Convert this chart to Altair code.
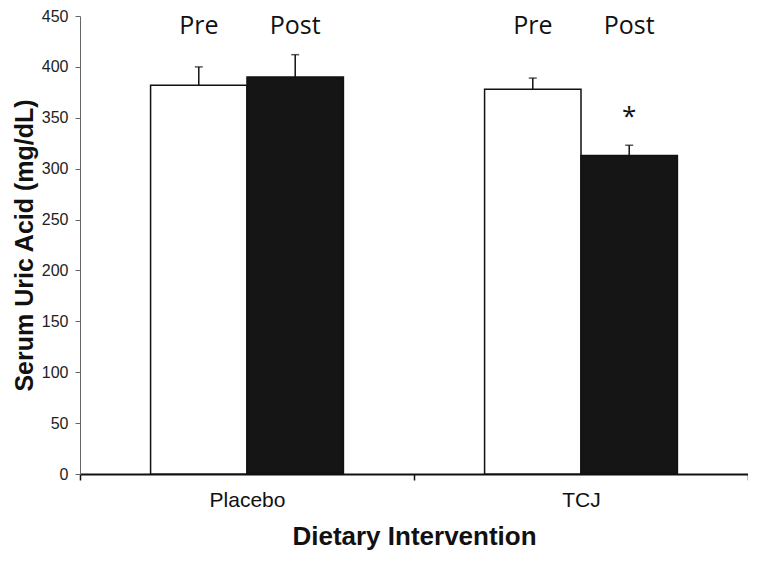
import altair as alt
import pandas as pd

groups = ["Placebo", "Placebo", "TCJ", "TCJ"]
times = ["Pre", "Post", "Pre", "Post"]
means = [382, 390, 378, 313]
errors = [18, 22, 11, 10]
y_ticks = [0, 50, 100, 150, 200, 250, 300, 350, 400, 450]
sig_group = ["TCJ"]
sig_time = ["Post"]
sig_text = ["*"]

df = pd.DataFrame({"Group": groups, "Time": times, "Mean": means, "Err": errors})
df["Upper"] = df["Mean"] + df["Err"]
sig = pd.DataFrame({"Group": sig_group, "Time": sig_time, "Label": sig_text})

FONT = "Liberation Sans"

x = alt.X(
    "Group:N",
    scale=alt.Scale(domain=["Placebo", "TCJ"], paddingInner=0, paddingOuter=0),
    axis=alt.Axis(
        title="Dietary Intervention",
        tickBand="extent",
        labelAngle=0,
        labelFont=FONT,
        labelFontSize=21,
        labelColor="#111",
        labelPadding=9,
        tickSize=6,
        tickColor="#111",
        tickWidth=1.5,
        domainColor="#111",
        domainWidth=2,
        titleFont=FONT,
        titleFontSize=26,
        titleFontWeight="bold",
        titleColor="#111",
        titlePadding=13,
    ),
)
xoff = alt.XOffset(
    "Time:N",
    scale=alt.Scale(domain=["Pre", "Post"], paddingInner=0, paddingOuter=0.732),
)
y = alt.Y(
    "Mean:Q",
    scale=alt.Scale(domain=[0, 450], nice=False),
    axis=alt.Axis(
        values=y_ticks,
        title="Serum Uric Acid (mg/dL)",
        grid=False,
        tickSize=5,
        tickColor="#666",
        domainColor="#666",
        labelFont=FONT,
        labelFontSize=16,
        labelColor="#222",
        labelPadding=7,
        titleFont=FONT,
        titleFontSize=25,
        titleFontWeight="bold",
        titleColor="#111",
        titlePadding=4,
    ),
)

base = alt.Chart(df)

bars = base.mark_bar(stroke="#111", strokeWidth=1.5).encode(
    x=x,
    xOffset=xoff,
    y=y,
    fill=alt.Fill("Time:N", scale=alt.Scale(domain=["Pre", "Post"], range=["white", "#151515"]), legend=None),
)

err_line = base.mark_rule(color="#111", strokeWidth=1.5).encode(
    x=x, xOffset=xoff, y="Mean:Q", y2="Upper:Q"
)
err_cap = base.mark_tick(color="#111", thickness=1.5, size=8, orient="horizontal").encode(
    x=x, xOffset=xoff, y="Upper:Q"
)

labels = base.mark_text(font="Open Sans", fontSize=25, color="#111", baseline="middle").encode(
    x=x, xOffset=xoff, y=alt.value(10), text="Time:N"
)

star = alt.Chart(sig).mark_text(font="Open Sans", fontSize=26, color="#111", baseline="middle", dy=-2).encode(
    x=x, xOffset=xoff, y=alt.datum(349), text="Label:N"
)

chart = (
    alt.layer(bars, err_line, err_cap, labels, star)
    .properties(
        width=668,
        height=458,
        autosize=alt.AutoSizeParams(type="none"),
        padding={"left": 72, "top": 8, "right": 0, "bottom": 80},
    )
    .configure_view(stroke=None)
)

chart.save("out.html", embed_options={"renderer": "svg", "actions": False})
